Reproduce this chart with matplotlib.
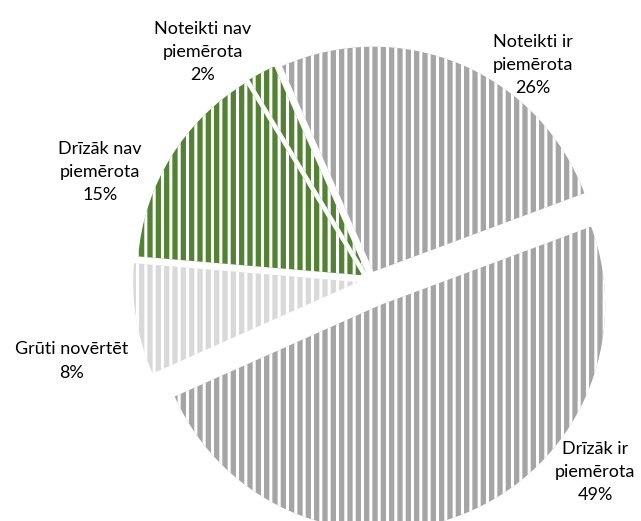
import matplotlib.pyplot as plt

# dati
kategorijas = ['Noteikti ir\npiemērota', 'Drīzāk ir\npiemērota', 'Grūti novērtēt',
               'Drīzāk nav\npiemērota', 'Noteikti nav\npiemērota']
procenti = [26, 49, 8, 15, 2]
krasas = ['#A5A5A5', '#A5A5A5', '#D9D9D9', '#548235', '#548235']

# izkārtojums (pikseļos)
W, H = 641, 521
centrs = (370, H - 280)
radiuss = 225
izvirzits = [9, 27, 12, 9, 9]
etikesu_vietas = [(533, 65), (595, 472), (72, 361), (100, 172), (203, 52)]

plt.rcParams['hatch.linewidth'] = 2.2
plt.rcParams['font.family'] = ['Lato', 'DejaVu Sans']

fig = plt.figure(figsize=(W / 100, H / 100), dpi=100)
ax = fig.add_axes([0, 0, 1, 1])

wedges, _ = ax.pie(procenti, colors=krasas, startangle=114, counterclock=False,
                   center=centrs, radius=radiuss, explode=izvirzits,
                   wedgeprops=dict(edgecolor='white', linewidth=0, hatch='||'),
                   frame=True)
ax.set_xlim(0, W)
ax.set_ylim(0, H)
ax.axis('off')

for nos, p, (x, y) in zip(kategorijas, procenti, etikesu_vietas):
    ax.text(x, H - y, f'{nos}\n{p}%', ha='center', va='center',
            multialignment='center', fontsize=13, linespacing=1.55, color='#000000')

plt.savefig('out.png', dpi=100)
